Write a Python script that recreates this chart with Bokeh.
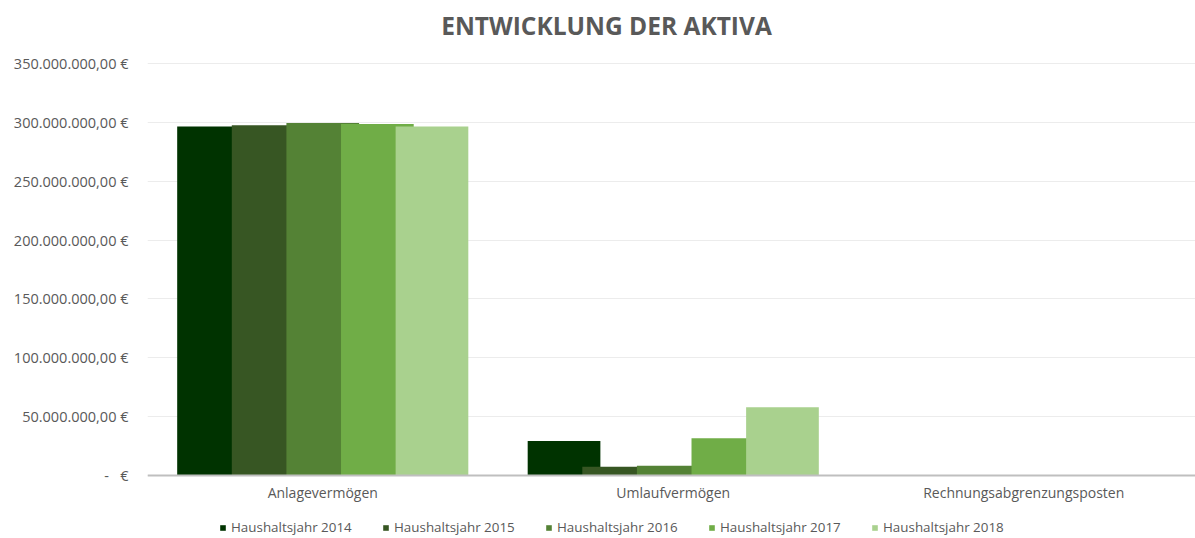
from bokeh.plotting import figure
from bokeh.models import Range1d, FixedTicker, Legend, LegendItem, Label
from bokeh.embed import file_html
from bokeh.resources import INLINE

# ---- data ----
categories = ["Anlagevermögen", "Umlaufvermögen", "Rechnungsabgrenzungsposten"]
series_names = ["Haushaltsjahr 2014", "Haushaltsjahr 2015", "Haushaltsjahr 2016",
                "Haushaltsjahr 2017", "Haushaltsjahr 2018"]
hj2014 = [296_500_000, 29_400_000, 0]
hj2015 = [297_500_000, 7_400_000, 0]
hj2016 = [299_500_000, 8_200_000, 0]
hj2017 = [298_500_000, 31_600_000, 0]
hj2018 = [296_500_000, 57_900_000, 0]
series_values = [hj2014, hj2015, hj2016, hj2017, hj2018]
colors = ["#003300", "#375623", "#548235", "#70AD47", "#A9D18E"]
y_ticks = [0, 50_000_000, 100_000_000, 150_000_000, 200_000_000,
           250_000_000, 300_000_000, 350_000_000]
title_text = "ENTWICKLUNG DER AKTIVA"


def euro(v):
    if v == 0:
        return "-\u00a0\u00a0\u00a0€"
    s = f"{v:,.2f}".replace(",", "X").replace(".", ",").replace("X", ".")
    return s + " €"


TEXT = "#595959"
W, H = 1195, 538
LEFT = 147
ZERO_PX, TOP_PX = 475, 63          # pixel rows of 0 and of the top tick
y_max = y_ticks[-1]
per_px = y_max / (ZERO_PX - TOP_PX)
y_lo = -(H - ZERO_PX) * per_px
y_hi = y_max + TOP_PX * per_px

frame_w = W - LEFT
cat_px = 350.5
step = 0.1558
bar_w = 0.2074

p = figure(width=W, height=H, output_backend="svg", toolbar_location=None,
           x_range=Range1d(0, frame_w / cat_px), y_range=Range1d(y_lo, y_hi),
           min_border_left=LEFT, min_border_right=0, min_border_top=0,
           min_border_bottom=0)
p.outline_line_color = None
p.background_fill_color = "white"
p.border_fill_color = "white"

renderers = []
n = len(series_values)
for i, (vals, col) in enumerate(zip(series_values, colors)):
    xs = [k + 0.5 + (i - (n - 1) / 2) * step for k in range(len(categories))]
    r = p.vbar(x=xs, top=vals, bottom=0, width=bar_w, fill_color=col, line_color=None)
    renderers.append(r)

# x axis drawn at value 0
p.xaxis.fixed_location = 0
p.xaxis.ticker = FixedTicker(ticks=[k + 0.5 for k in range(len(categories))])
p.xaxis.major_label_overrides = {k + 0.5: c for k, c in enumerate(categories)}
p.xaxis.major_tick_line_color = None
p.xaxis.minor_tick_line_color = None
p.xaxis.major_tick_out = 0
p.xaxis.major_tick_in = 0
p.xaxis.axis_line_color = "#bfbfbf"
p.xaxis.axis_line_width = 2
p.xaxis.major_label_standoff = 7
p.xaxis.major_label_text_font = "Open Sans"
p.xaxis.major_label_text_font_size = "14px"
p.xaxis.major_label_text_color = TEXT

p.yaxis.ticker = FixedTicker(ticks=y_ticks)
p.yaxis.major_label_overrides = {t: euro(t) for t in y_ticks}
p.yaxis.major_tick_line_color = None
p.yaxis.minor_tick_line_color = None
p.yaxis.major_tick_out = 0
p.yaxis.major_tick_in = 0
p.yaxis.axis_line_color = None
p.yaxis.major_label_standoff = 19
p.yaxis.major_label_text_font = "Open Sans"
p.yaxis.major_label_text_font_size = "14.5px"
p.yaxis.major_label_text_color = TEXT

p.xgrid.grid_line_color = None
p.ygrid.ticker = FixedTicker(ticks=y_ticks)
p.ygrid.grid_line_color = "#ececec"
p.ygrid.grid_line_width = 1

# title
p.add_layout(Label(x=459, y=H - 24.5, x_units="screen", y_units="screen", text=title_text,
                   text_align="center", text_baseline="middle", text_font="Open Sans",
                   text_font_style="bold", text_font_size="24.5px", text_color=TEXT))

# legend
items = [LegendItem(label=nm, renderers=[r]) for nm, r in zip(series_names, renderers)]
legend = Legend(items=items, location=(72, 2), orientation="horizontal",
                glyph_width=7, glyph_height=7, label_standoff=5, label_width=151,
                spacing=0, padding=0, margin=0, border_line_color=None,
                background_fill_alpha=0, label_text_font="Open Sans",
                label_text_font_size="13.4px", label_text_color=TEXT, label_height=7)
p.add_layout(legend)

open("out.html", "w").write(file_html(p, INLINE))
